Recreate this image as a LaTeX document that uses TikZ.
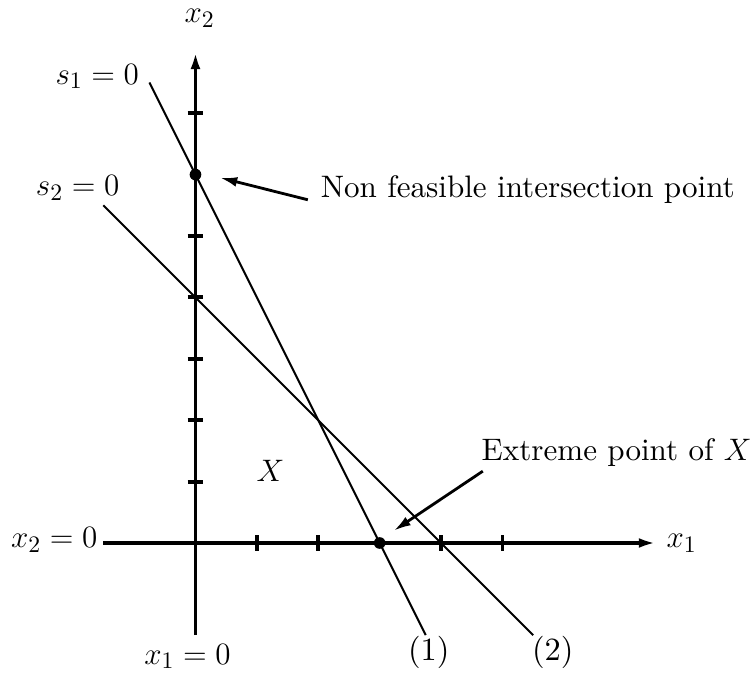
\documentclass[tikz,border=0pt]{standalone}
\usepackage{fontspec}
\setmainfont{lmroman10-regular}[Extension=.otf]
\usetikzlibrary{arrows.meta}
\begin{document}
\begin{tikzpicture}[x=1cm,y=1cm,
  every node/.style={font=\fontsize{15}{18}\selectfont, inner sep=1pt},
  prose/.style={font=\fontsize{14.4}{17}\selectfont, anchor=west},
  axis/.style={line width=1.8pt, -{Latex[length=0.28cm,width=0.16cm]}},
  tick/.style={line width=1.8pt},
  cons/.style={line width=0.9pt},
  pointer/.style={line width=1.3pt, -{Latex[length=0.28cm,width=0.16cm]}},
  dot/.style={circle, fill=black, inner sep=0pt, minimum size=0.19cm}]
\useasboundingbox (-3.184,-2.150) rectangle (9.064,8.844);
% axes
\coordinate (xs) at (-1.5,0);
\coordinate (xe) at (7.5,0);
\coordinate (ys) at (0,-1.5);
\coordinate (ye) at (0,8.0);
\draw[axis] (xs) -- (xe);
\draw[axis] (ys) -- (ye);
% ticks
\foreach \i in {1,2,4,5} \draw[tick] (\i,-0.13) -- (\i,0.13);
\foreach \j in {1,2,3,4,5,7} \draw[tick] (-0.13,\j) -- (0.13,\j);
% constraint lines
\coordinate (a1) at (-0.75,7.5);
\coordinate (b1) at (3.75,-1.5);
\coordinate (a2) at (-1.5,5.5);
\coordinate (b2) at (5.5,-1.5);
\draw[cons] (a1) -- (b1);
\draw[cons] (a2) -- (b2);
% points
\node[dot] (p6) at (0,6) {};
\node[dot] (p3) at (3,0) {};
% labels
\node (lx2) at (0.07,8.55) {$x_2$};
\node (lx1) at (7.92,0.0) {$x_1$};
\node (ls1) at (-1.6,7.6) {$s_1=0$};
\node (ls2) at (-1.92,5.78) {$s_2=0$};
\node (lx20) at (-2.3,0.05) {$x_2=0$};
\node (lx10) at (-0.13,-1.85) {$x_1=0$};
\node (lX) at (1.22,1.17) {$X$};
\node (l1) at (3.8,-1.78) {(1)};
\node (l2) at (5.82,-1.78) {(2)};
\node[prose] (nf) at (2.0,5.75) {Non feasible intersection point};
\node[prose] (ep) at (4.62,1.48) {Extreme point of $X$};
% pointers
\coordinate (nfs) at (1.83,5.59);
\coordinate (nft) at (0.40,5.95);
\draw[pointer] (nfs) -- (nft);
\coordinate (eps) at (4.68,1.17);
\coordinate (ept) at (3.23,0.20);
\draw[pointer] (eps) -- (ept);
\end{tikzpicture}
\end{document}
